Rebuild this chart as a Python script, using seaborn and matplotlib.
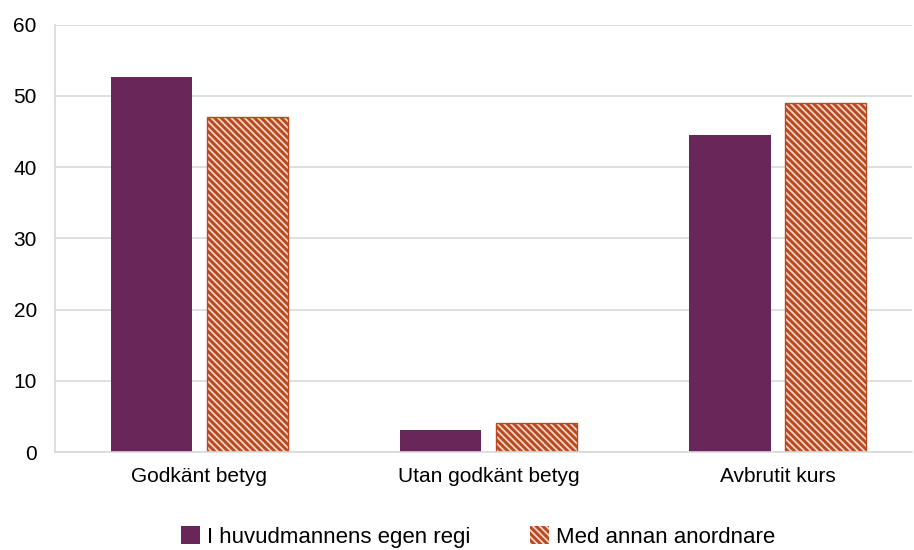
import pandas as pd
import seaborn as sns
import matplotlib.pyplot as plt
from matplotlib.patches import Patch

categories = ['Godkänt betyg', 'Utan godkänt betyg', 'Avbrutit kurs']
series_names = ['I huvudmannens egen regi', 'Med annan anordnare']
egen_regi = [52.6, 3.1, 44.5]
annan_anordnare = [47.0, 4.1, 49.0]

purple = '#692659'
orange = '#BA4920'
stripe_color = '#f4d6c8'
stripes = '\\' * 5

df = pd.DataFrame({
    'Kategori': categories * 2,
    'Serie': [series_names[0]] * 3 + [series_names[1]] * 3,
    'Andel': egen_regi + annan_anordnare,
})

sns.set_style('white')
plt.rcParams['font.family'] = ['Liberation Sans', 'DejaVu Sans']
plt.rcParams['hatch.linewidth'] = 1.3
plt.rcParams['text.color'] = 'black'
plt.rcParams['xtick.labelcolor'] = 'black'
plt.rcParams['ytick.labelcolor'] = 'black'

fig = plt.figure(figsize=(9.14, 5.5), dpi=100)
ax = fig.add_axes([0.060, 0.178, 0.938, 0.777])

sns.barplot(data=df, x='Kategori', y='Andel', hue='Serie',
            palette=[purple, orange], width=0.66, gap=0.15,
            saturation=1, legend=False, ax=ax)

# second series: orange with thin light diagonal stripes
for bar in ax.patches[3:6]:
    bar.set_facecolor(orange)
    bar.set_edgecolor(stripe_color)
    bar.set_hatch(stripes)
    bar.set_linewidth(0)
    ax.add_patch(plt.Rectangle(bar.get_xy(), bar.get_width(), bar.get_height(),
                               fill=False, edgecolor=orange, linewidth=1, zorder=bar.get_zorder() + 0.1))
for bar in ax.patches[0:3]:
    bar.set_linewidth(0)

ax.set_ylim(0, 60)
ax.set_yticks(range(0, 61, 10))
ax.set_xlim(-0.5, 2.465)
ax.yaxis.grid(True, color='#d9d9d9', linewidth=1.2)
ax.set_axisbelow(True)
ax.set_xlabel('')
ax.set_ylabel('')
for side in ['top', 'right']:
    ax.spines[side].set_visible(False)
ax.spines['left'].set_color('#d9d9d9')
ax.spines['bottom'].set_color('#d9d9d9')
ax.spines['left'].set_linewidth(1.2)
ax.spines['bottom'].set_linewidth(1.2)
ax.tick_params(axis='y', length=5, color='#d9d9d9', width=1.2, labelsize=15, pad=8,
               labelcolor='black')
ax.tick_params(axis='x', length=0, labelsize=15, pad=11, labelcolor='black')

handles = [Patch(facecolor=purple, edgecolor='none'),
           Patch(facecolor=orange, edgecolor=stripe_color, hatch=stripes, linewidth=0)]
leg = fig.legend(handles, series_names, loc='center', ncol=2, frameon=False,
                 fontsize=16, bbox_to_anchor=(0.523, 0.024), handlelength=0.85, handleheight=0.85,
                 handletextpad=0.3, columnspacing=2.7)
for t in leg.get_texts():
    t.set_color('black')

fig.savefig('out.png', dpi=100)
